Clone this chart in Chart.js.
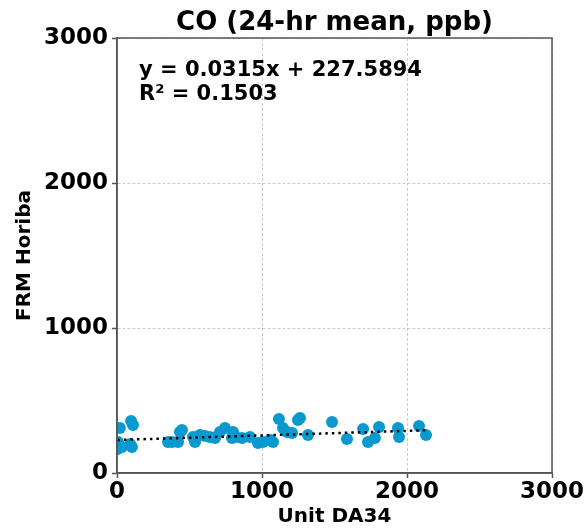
<!DOCTYPE html>
<html>
<head>
<meta charset="utf-8">
<script src="https://cdn.jsdelivr.net/npm/chart.js@4.4.1/dist/chart.umd.min.js"></script>
<style>
  body { margin: 0; background: #fff; }
  canvas { display: block; }
</style>
</head>
<body>
<canvas id="chartCanvas" width="586" height="530"></canvas>
<script>
// CO daily means, Unit DA34 vs FRM Horiba (ppb)
const unitDA34 = [7, 20, 34, 3, 97, 110, 90, 103, 352, 380, 421, 434, 448, 524, 538, 572, 607, 641, 676, 710,
  745, 800, 793, 821, 862, 917, 972, 1007, 1055, 1076, 1117, 1145, 1172, 1207, 1248, 1262, 1317, 1483,
  1586, 1697, 1731, 1779, 1807, 1938, 1945, 2083, 2131];
const frmHoriba = [214, 310, 179, 165, 359, 331, 200, 179, 214, 214, 214, 283, 297, 248, 214, 262, 255, 248, 241, 283,
  310, 283, 241, 248, 241, 248, 207, 214, 228, 214, 372, 310, 283, 276, 366, 379, 262, 352,
  234, 303, 214, 241, 317, 310, 248, 324, 262];

const axisTicks = [0, 1000, 2000, 3000];

// fit printed on the chart
const slope = 0.0315;
const intercept = 227.5894;
const rSquared = 0.1503;

const chartTitle = 'CO (24-hr mean, ppb)';

const points = unitDA34.map((x, i) => ({ x: x, y: frmHoriba[i] }));
const xMin = Math.min(...unitDA34);
const xMax = Math.max(...unitDA34);
const trendPoints = [xMin, xMax].map(x => ({ x: x, y: slope * x + intercept }));

const FONT = '"DejaVu Sans", sans-serif';

// box around the plot, title centred on the plot, equation text
const framePlugin = {
  id: 'frame',
  afterDraw(chart) {
    const { ctx, chartArea: a } = chart;
    ctx.save();
    ctx.strokeStyle = '#555';
    ctx.lineWidth = 1.5;
    ctx.strokeRect(a.left, a.top, a.right - a.left, a.bottom - a.top);

    ctx.fillStyle = '#000';
    ctx.textAlign = 'center';
    ctx.textBaseline = 'alphabetic';
    ctx.font = 'bold 26px ' + FONT;
    ctx.fillText(chartTitle, (a.left + a.right) / 2, a.top - 8);

    ctx.textAlign = 'left';
    ctx.font = 'bold 21px ' + FONT;
    ctx.fillText('y = ' + slope + 'x + ' + intercept, a.left + 22, a.top + 38);
    ctx.fillText('R\u00b2 = ' + rSquared, a.left + 22, a.top + 62);
    ctx.restore();
  }
};

function axis(titleText, titlePadding, tickPadding, fitFn) {
  return {
    type: 'linear',
    min: 0,
    max: 3000,
    afterBuildTicks: s => { s.ticks = axisTicks.map(v => ({ value: v })); },
    afterFit: fitFn,
    ticks: {
      color: '#000',
      font: { family: FONT, size: 23, weight: 'bold' },
      padding: tickPadding,
      callback: v => String(v)
    },
    grid: {
      color: 'rgba(0,0,0,0.2)',
      lineWidth: 1,
      tickColor: '#555',
      tickLength: 5,
      tickWidth: 1.5
    },
    border: { color: '#555', width: 1.5, dash: [3, 2] },
    title: {
      display: true,
      text: titleText,
      color: '#000',
      font: { family: FONT, size: 20, weight: 'bold' },
      padding: titlePadding
    }
  };
}

const ctx = document.getElementById('chartCanvas').getContext('2d');
new Chart(ctx, {
  type: 'scatter',
  data: {
    datasets: [
      {
        label: 'Trendline',
        type: 'line',
        data: trendPoints,
        borderColor: '#000',
        borderWidth: 2.5,
        borderDash: [2.5, 4],
        pointRadius: 0,
        fill: false,
        order: 0
      },
      {
        label: 'CO',
        data: points,
        backgroundColor: '#0899cf',
        borderWidth: 0,
        pointRadius: 6,
        clip: 0,
        order: 1
      }
    ]
  },
  options: {
    responsive: false,
    animation: false,
    devicePixelRatio: 1,
    layout: { padding: { top: 38, right: 34, bottom: 0, left: 0 } },
    plugins: {
      legend: { display: false },
      tooltip: { enabled: false },
      title: { display: false }
    },
    scales: {
      x: axis('Unit DA34', { top: 0, bottom: 1 }, 0, s => { s.height = 57; }),
      y: axis('FRM Horiba', { top: 13, bottom: 0 }, 4, s => { s.width = 117; })
    }
  },
  plugins: [framePlugin]
});
</script>
</body>
</html>
